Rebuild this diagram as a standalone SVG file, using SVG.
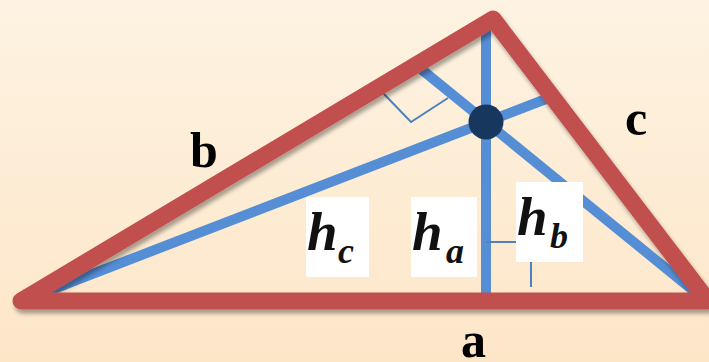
<svg xmlns="http://www.w3.org/2000/svg" width="709" height="362" viewBox="0 0 709 362">
<defs>
<linearGradient id="bg" x1="0" y1="0" x2="0" y2="1">
<stop offset="0" stop-color="#fdf3e2"/>
<stop offset="1" stop-color="#fde6c8"/>
</linearGradient>
<filter id="sh" x="-10%" y="-10%" width="120%" height="130%">
<feGaussianBlur in="SourceAlpha" stdDeviation="2"/>
<feOffset dx="2" dy="4" result="b"/>
<feComponentTransfer><feFuncA type="linear" slope="0.35"/></feComponentTransfer>
<feMerge><feMergeNode/><feMergeNode in="SourceGraphic"/></feMerge>
</filter>
</defs>
<style>
.alt{stroke:#558ed5;stroke-width:10;fill:none;stroke-linecap:butt}
.mark{stroke:#4f81bd;stroke-width:2;fill:none}
.side{stroke:#c0504d;stroke-width:17;fill:none;stroke-linejoin:round;stroke-linecap:round}
.lbl{font-family:"Liberation Serif",serif;font-weight:bold;font-size:50px;fill:#000}
.h{font-family:"Liberation Serif",serif;font-weight:bold;font-style:italic;fill:#111}
.box{fill:#ffffff}
</style>
<rect width="709" height="362" fill="url(#bg)"/>
<g id="connectors">
<line class="alt" x1="486" y1="22" x2="486" y2="298"/>
<line class="alt" x1="30" y1="298" x2="546" y2="99"/>
<line class="alt" x1="700" y1="296" x2="421" y2="69"/>
<polyline class="mark" points="383,93 411,122 448,98"/>
<polyline class="mark" points="486,242 531,242 531,287"/>
</g>
<g id="triangle" filter="url(#sh)">
<polygon class="side" points="21,301 493,19 708,301"/>
</g>
<g id="orthocenter">
<circle cx="486" cy="122" r="17.5" fill="#17375e"/>
</g>
<g id="label-hc">
<rect class="box" x="306" y="197" width="63" height="80"/>
<text class="h" x="307" y="250" font-size="55">h</text>
<text class="h" x="338" y="263" font-size="36">c</text>
</g>
<g id="label-ha">
<rect class="box" x="411" y="197" width="66" height="80"/>
<text class="h" x="412" y="250" font-size="55">h</text>
<text class="h" x="446" y="263" font-size="36">a</text>
</g>
<g id="label-hb">
<rect class="box" x="516" y="182" width="67" height="80"/>
<text class="h" x="517" y="235" font-size="55">h</text>
<text class="h" x="550" y="248" font-size="36">b</text>
</g>
<g id="label-b"><text class="lbl" x="190" y="167">b</text></g>
<g id="label-c"><text class="lbl" x="625" y="135">c</text></g>
<g id="label-a"><text class="lbl" x="461" y="357">a</text></g>
</svg>
